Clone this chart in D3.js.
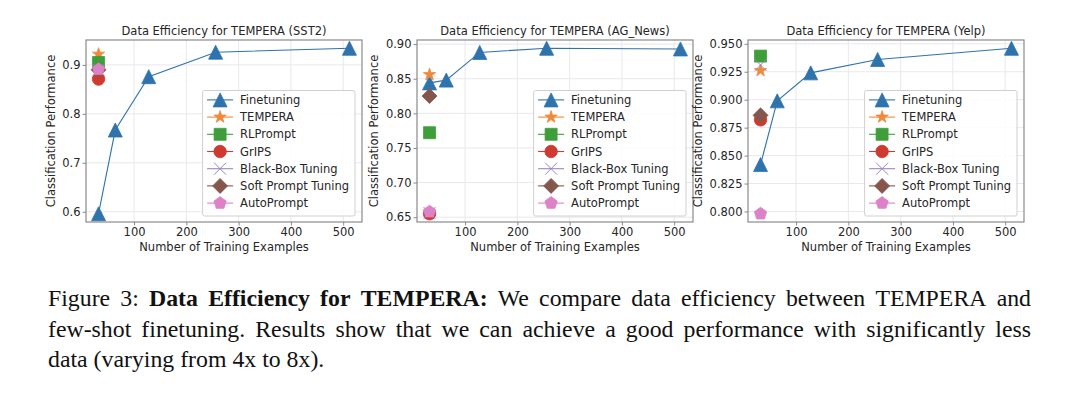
<!DOCTYPE html>
<html>
<head>
<meta charset="utf-8">
<title>Data Efficiency for TEMPERA</title>
<style>
body { margin: 0; background: #fff; }
svg text { font-family: "DejaVu Sans", sans-serif; fill: #262626; }
svg text.caption { font-family: "Liberation Serif", "Times New Roman", serif; fill: #111; }
</style>
</head>
<body>
<svg width="1080" height="394"></svg>
<script src="https://cdn.jsdelivr.net/npm/d3@7"></script>
<script>
// ---- data ----
var methods = ["Finetuning", "TEMPERA", "RLPrompt", "GrIPS", "Black-Box Tuning", "Soft Prompt Tuning", "AutoPrompt"];
var colors  = ["#2f73ad", "#f0893a", "#3f9e3a", "#cf3a30", "#9a86c4", "#85574c", "#dd82c6"];
var shapes  = ["triangle", "star", "square", "circle", "x", "diamond", "pentagon"];

var trainSizes = [32, 64, 128, 256, 512];
var fewShotSize = 32;
var xTicks = [100, 200, 300, 400, 500];

// finetuning curve per dataset, then the prompt methods at 32 examples
// (order: TEMPERA, RLPrompt, GrIPS, Black-Box Tuning, Soft Prompt Tuning, AutoPrompt)
var sst2Finetuning = [0.596, 0.767, 0.876, 0.926, 0.934];
var sst2Prompting  = [0.922, 0.905, 0.871, 0.890, 0.890, 0.891];
var sst2Ticks      = [0.6, 0.7, 0.8, 0.9];

var agFinetuning = [0.844, 0.848, 0.888, 0.894, 0.893];
var agPrompting  = [0.856, 0.772, 0.655, 0.656, 0.825, 0.658];
var agTicks      = [0.65, 0.70, 0.75, 0.80, 0.85, 0.90];

var yelpFinetuning = [0.842, 0.899, 0.924, 0.936, 0.946];
var yelpPrompting  = [0.926, 0.939, 0.882, 0.931, 0.886, 0.798];
var yelpTicks      = [0.800, 0.825, 0.850, 0.875, 0.900, 0.925, 0.950];

var panels = [
  { title: "Data Efficiency for TEMPERA (SST2)",    fine: sst2Finetuning, prompt: sst2Prompting, ticks: sst2Ticks, fmt: ".1f", left: 86 },
  { title: "Data Efficiency for TEMPERA (AG_News)", fine: agFinetuning,   prompt: agPrompting,   ticks: agTicks,   fmt: ".2f", left: 417 },
  { title: "Data Efficiency for TEMPERA (Yelp)",    fine: yelpFinetuning, prompt: yelpPrompting, ticks: yelpTicks, fmt: ".3f", left: 748 }
];

var captionLines = [
  { justify: true,  words: [["Figure 3:", false], ["Data Efficiency for TEMPERA:", true], ["We compare data efficiency between TEMPERA and", false]] },
  { justify: true,  words: [["few-shot finetuning.  Results show that we can achieve a good performance with significantly less", false]] },
  { justify: false, words: [["data (varying from 4x to 8x).", false]] }
];

// ---- layout ----
var plotW = 276, plotH = 182, plotTop = 40;
var fs = 11.5;

var svg = d3.select("svg");

// marker shapes (relative to the point)
function marker(type, s) {
  var p = d3.path(), r = s / 2, i, a;
  if (type === "triangle") {
    p.moveTo(0, -r); p.lineTo(r, r); p.lineTo(-r, r); p.closePath();
  } else if (type === "square") {
    p.rect(-r, -r, s, s);
  } else if (type === "circle") {
    p.arc(0, 0, r, 0, 2 * Math.PI);
  } else if (type === "diamond") {
    p.moveTo(0, -r); p.lineTo(r, 0); p.lineTo(0, r); p.lineTo(-r, 0); p.closePath();
  } else if (type === "pentagon") {
    for (i = 0; i < 5; i++) {
      a = -Math.PI / 2 + i * 2 * Math.PI / 5;
      if (i === 0) p.moveTo(r * Math.cos(a), r * Math.sin(a)); else p.lineTo(r * Math.cos(a), r * Math.sin(a));
    }
    p.closePath();
  } else if (type === "star") {
    for (i = 0; i < 10; i++) {
      a = -Math.PI / 2 + i * Math.PI / 5;
      var rr = i % 2 ? r * 0.382 : r;
      if (i === 0) p.moveTo(rr * Math.cos(a), rr * Math.sin(a)); else p.lineTo(rr * Math.cos(a), rr * Math.sin(a));
    }
    p.closePath();
  } else if (type === "x") {
    p.moveTo(-r, -r); p.lineTo(r, r); p.moveTo(-r, r); p.lineTo(r, -r);
  }
  return p.toString();
}
var markerSize = { triangle: 14, star: 13, square: 12, circle: 12.5, x: 12, diamond: 15, pentagon: 13 };

function drawMarker(g, i, x, y) {
  var t = shapes[i];
  g.append("path")
    .attr("transform", "translate(" + x + "," + y + ")")
    .attr("d", marker(t, markerSize[t]))
    .attr("fill", t === "x" ? "none" : colors[i])
    .attr("stroke", colors[i])
    .attr("stroke-width", t === "x" ? 1 : 0.8);
}

panels.forEach(function(pn) {
  var g = svg.append("g").attr("transform", "translate(" + pn.left + "," + plotTop + ")");

  var xs = d3.scaleLinear()
    .domain([trainSizes[0] - 0.05 * (trainSizes[4] - trainSizes[0]), trainSizes[4] + 0.05 * (trainSizes[4] - trainSizes[0])])
    .range([0, plotW]);
  var all = pn.fine.concat(pn.prompt);
  var lo = d3.min(all), hi = d3.max(all), m = 0.05 * (hi - lo);
  var ys = d3.scaleLinear().domain([lo - m, hi + m]).range([plotH, 0]);

  // grid
  g.append("g").selectAll("line").data(xTicks).enter().append("line")
    .attr("x1", xs).attr("x2", xs).attr("y1", 0).attr("y2", plotH)
    .attr("stroke", "#e8e8ee").attr("stroke-width", 1);
  g.append("g").selectAll("line").data(pn.ticks).enter().append("line")
    .attr("y1", ys).attr("y2", ys).attr("x1", 0).attr("x2", plotW)
    .attr("stroke", "#e8e8ee").attr("stroke-width", 1);

  // axes
  var xAxis = g.append("g").attr("transform", "translate(0," + plotH + ")")
    .call(d3.axisBottom(xs).tickValues(xTicks).tickSize(3.5).tickPadding(2));
  var yAxis = g.append("g")
    .call(d3.axisLeft(ys).tickValues(pn.ticks).tickFormat(d3.format(pn.fmt)).tickSize(3.5).tickPadding(2));
  [xAxis, yAxis].forEach(function(a) {
    a.select(".domain").remove();
    a.selectAll(".tick line").attr("stroke", "#8a8a8a");
    a.selectAll(".tick text").attr("font-size", fs).attr("font-family", "DejaVu Sans").attr("fill", "#262626");
  });

  g.append("rect").attr("width", plotW).attr("height", plotH)
    .attr("fill", "none").attr("stroke", "#8a8a8a").attr("stroke-width", 1.2);

  // titles
  g.append("text").attr("x", plotW / 2).attr("y", -5).attr("text-anchor", "middle")
    .attr("font-size", fs).text(pn.title);
  g.append("text").attr("x", plotW / 2).attr("y", plotH + 29).attr("text-anchor", "middle")
    .attr("font-size", fs).text("Number of Training Examples");
  var tw = d3.max(yAxis.selectAll(".tick text").nodes(), function(n) { return n.getComputedTextLength(); });
  g.append("text").attr("transform", "translate(" + (-tw - 13) + "," + (plotH / 2) + ") rotate(-90)")
    .attr("text-anchor", "middle").attr("font-size", fs).text("Classification Performance");

  // finetuning curve
  g.append("path")
    .attr("d", d3.line().x(function(d, i) { return xs(trainSizes[i]); }).y(function(d) { return ys(d); })(pn.fine))
    .attr("fill", "none").attr("stroke", colors[0]).attr("stroke-width", 1.1);
  pn.fine.forEach(function(v, i) { drawMarker(g, 0, xs(trainSizes[i]), ys(v)); });

  // prompt-based methods at the few-shot size
  pn.prompt.forEach(function(v, i) { drawMarker(g, i + 1, xs(fewShotSize), ys(v)); });

  // legend
  var lg = g.append("g");
  var rowH = 17.2;
  var items = lg.selectAll("g").data(methods).enter().append("g");
  items.append("text").attr("x", 37.5).attr("y", function(d, i) { return 9.4 + i * rowH; })
    .attr("dy", "0.35em").attr("font-size", fs).text(function(d) { return d; });
  var lw = 37.5 + d3.max(items.selectAll("text").nodes(), function(n) { return n.getComputedTextLength(); }) + 6;
  var lh = 9.4 * 2 + rowH * (methods.length - 1) + 3.5;
  lg.insert("rect", ":first-child").attr("width", lw).attr("height", lh).attr("rx", 2)
    .attr("fill", "#fff").attr("fill-opacity", 0.85).attr("stroke", "#d0d0d0").attr("stroke-width", 1);
  items.each(function(d, i) {
    var it = d3.select(this), y = 9.4 + i * rowH;
    it.append("line").attr("x1", 4.5).attr("x2", 30.5).attr("y1", y).attr("y2", y)
      .attr("stroke", colors[i]).attr("stroke-width", 1.1);
    drawMarker(it, i, 17.5, y);
  });
  lg.attr("transform", "translate(" + (plotW - 7 - lw) + "," + (plotH - 6 - lh) + ")");
});

// ---- caption ----
var capLeft = 48, capRight = 1031, capTop = 306, capLine = 30.5, capFs = 23.8;
captionLines.forEach(function(line, li) {
  var words = [];
  line.words.forEach(function(seg) {
    seg[0].split(/\s+/).forEach(function(w) { words.push({ t: w, b: seg[1] }); });
  });
  var texts = words.map(function(w) {
    return svg.append("text").attr("class", "caption").attr("font-size", capFs)
      .attr("font-weight", w.b ? "bold" : "normal")
      .attr("y", capTop + li * capLine).text(w.t);
  });
  var widths = texts.map(function(t) { return t.node().getComputedTextLength(); });
  var gap = line.justify ? (capRight - capLeft - d3.sum(widths)) / (words.length - 1) : capFs * 0.25;
  var x = capLeft;
  texts.forEach(function(t, i) { t.attr("x", x); x += widths[i] + gap; });
});
</script>
</body>
</html>
